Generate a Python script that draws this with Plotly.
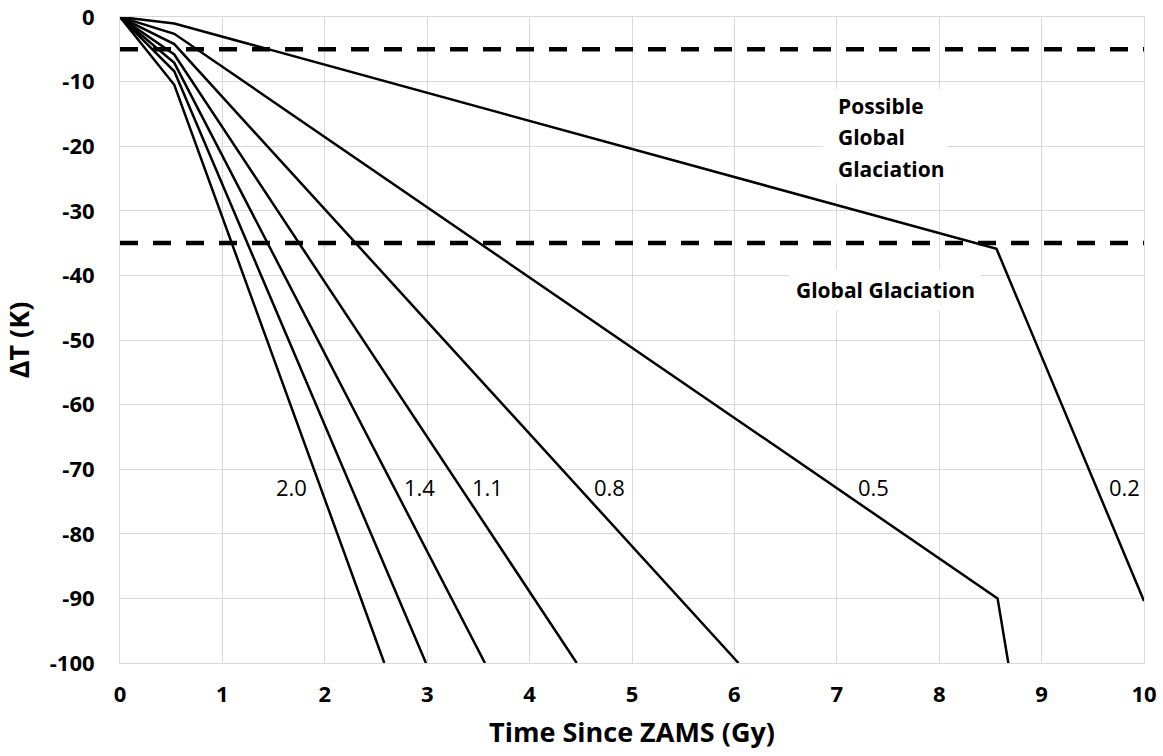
import plotly.graph_objects as go

# ---- data ----
series_names = ["0.2", "0.5", "0.8", "1.1", "1.4", "1.7", "2.0"]
t_02 = [0, 0.53, 8.56, 10.0]
dT_02 = [0, -1.0, -35.9, -90.4]
t_05 = [0, 0.53, 8.57, 8.675]
dT_05 = [0, -2.6, -90.0, -100]
t_08 = [0, 0.53, 6.04]
dT_08 = [0, -4.2, -100]
t_11 = [0, 0.53, 4.46]
dT_11 = [0, -5.8, -100]
t_14 = [0, 0.53, 3.564]
dT_14 = [0, -7.1, -100]
t_17 = [0, 0.53, 2.988]
dT_17 = [0, -8.4, -100]
t_20 = [0, 0.53, 2.581]
dT_20 = [0, -10.5, -100]

threshold_x = [0, 10]
possible_glaciation_level = [-5, -5]
global_glaciation_level = [-35, -35]

label_texts = ["2.0", "1.4", "1.1", "0.8", "0.5", "0.2"]
label_x = [1.677, 2.923, 3.587, 4.778, 7.357, 9.814]
label_y = [-72.7, -72.7, -72.7, -72.7, -72.7, -72.7]

region_lines = ["Possible", "Global", "Glaciation"]
region_line_y = [-13.7, -18.6, -23.5]

x_ticks = [0, 1, 2, 3, 4, 5, 6, 7, 8, 9, 10]
y_ticks = [0, -10, -20, -30, -40, -50, -60, -70, -80, -90, -100]

FONT = "Open Sans"

fig = go.Figure()

# threshold dashed lines
for lvl in (possible_glaciation_level, global_glaciation_level):
    fig.add_trace(go.Scatter(x=threshold_x, y=lvl, mode="lines",
                             line=dict(color="black", width=4.5, dash="18px,15px"),
                             showlegend=False, hoverinfo="skip"))

all_t = [t_02, t_05, t_08, t_11, t_14, t_17, t_20]
all_dT = [dT_02, dT_05, dT_08, dT_11, dT_14, dT_17, dT_20]
for name, t, d in zip(series_names, all_t, all_dT):
    fig.add_trace(go.Scatter(x=t, y=d, mode="lines", name=name,
                             line=dict(color="black", width=2.5),
                             showlegend=False))

# series labels
for txt, lx, ly in zip(label_texts, label_x, label_y):
    fig.add_annotation(x=lx, y=ly, text=txt, showarrow=False,
                       xanchor="center", yanchor="middle",
                       font=dict(family=FONT, size=22, color="black"))

# white text box behind "Possible Global Glaciation" (hides gridlines)
fig.add_shape(type="rect", xref="x", yref="y", x0=6.865, x1=8.076, y0=-25.7, y1=-11.2,
              fillcolor="white", line=dict(width=0), layer="between")
for txt, ly in zip(region_lines, region_line_y):
    fig.add_annotation(x=6.99, y=ly, text=txt, showarrow=False,
                       xanchor="left", yanchor="middle",
                       font=dict(family=FONT, size=21, color="black", weight="bold"))

fig.add_annotation(x=7.48, y=-42.25, text="Global Glaciation",
                   showarrow=False, xanchor="center", yanchor="middle",
                   bgcolor="white", borderpad=6,
                   font=dict(family=FONT, size=21, color="black", weight="bold"))

axis_common = dict(showgrid=True, gridcolor="#d9d9d9", gridwidth=1,
                   zeroline=False, showline=True, linecolor="#d9d9d9",
                   linewidth=1, mirror=True, ticks="",
                   ticklabeloverflow="allow",
                   tickfont=dict(family=FONT, size=22, color="black", weight="bold"))

fig.update_xaxes(range=[0, 10], tickvals=x_ticks, ticktext=[str(v) for v in x_ticks],
                 ticklabelstandoff=12,
                 title=dict(text="Time Since ZAMS (Gy)",
                            font=dict(family=FONT, size=27, color="black", weight="bold")),
                 **axis_common)
fig.update_yaxes(range=[-100, 0], tickvals=y_ticks, ticktext=[str(v) for v in y_ticks],
                 ticklabelstandoff=20,
                 title=dict(text="ΔT (K)",
                            font=dict(family=FONT, size=27, color="black", weight="bold")),
                 **axis_common)

fig.update_layout(width=1163, height=756,
                  margin=dict(l=120, r=19, t=17, b=93, autoexpand=False),
                  plot_bgcolor="white", paper_bgcolor="white",
                  showlegend=False)

# remove the default 8px page margin so the figure fills the window exactly
fig.write_html("out.html",
               config={"displayModeBar": False},
               post_script="document.body.style.margin='0';document.body.style.overflow='hidden';")
